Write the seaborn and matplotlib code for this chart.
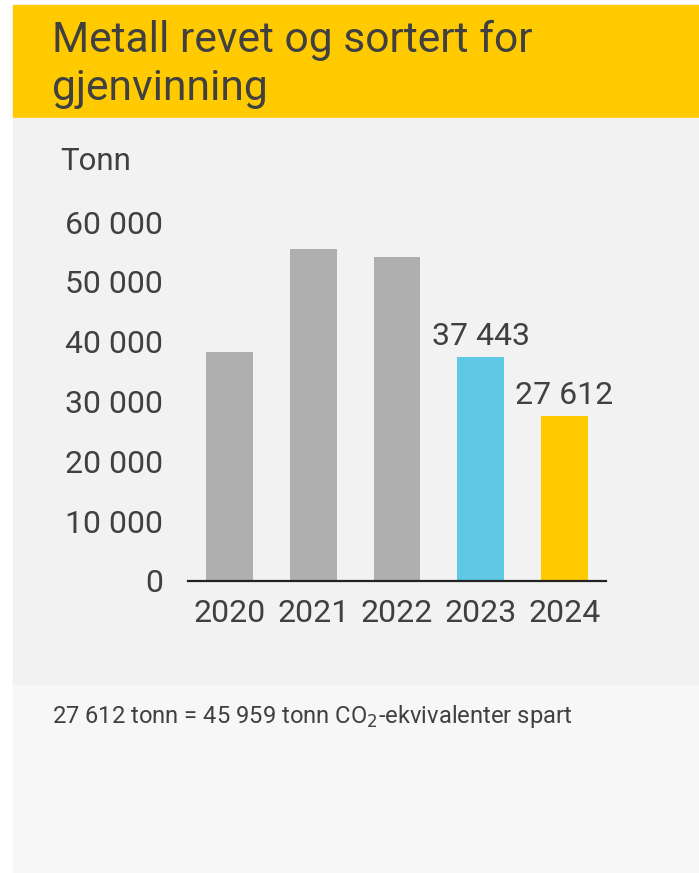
import matplotlib
matplotlib.use('Agg')
import matplotlib.pyplot as plt
from matplotlib.patches import Rectangle
import seaborn as sns
import pandas as pd

sns.set_style('white')
plt.rcParams['font.family'] = ['Roboto', 'DejaVu Sans']

years = ['2020', '2021', '2022', '2023', '2024']
tonn = [38300, 55500, 54200, 37443, 27612]
bar_colors = ['#afafaf', '#afafaf', '#afafaf', '#5ec8e5', '#ffcb00']
yticks = [0, 10000, 20000, 30000, 40000, 50000, 60000]
ytick_labels = ['0', '10 000', '20 000', '30 000', '40 000', '50 000', '60 000']
value_labels = {3: '37 443', 4: '27 612'}

title = 'Metall revet og sortert for\ngjenvinning'
footer = '27 612 tonn = 45 959 tonn CO$_2$-ekvivalenter spart'
text_col = '#404040'

W, H = 699, 873
fig = plt.figure(figsize=(W / 100, H / 100), dpi=100)
fig.patch.set_facecolor('white')

# background blocks (pixel coords converted to figure fraction)
def box(x0, y0, x1, y1, color):
    fig.patches.append(Rectangle((x0 / W, 1 - y1 / H), (x1 - x0) / W, (y1 - y0) / H,
                                 transform=fig.transFigure, color=color, zorder=-10))

box(13, 5, W, 118, '#ffcb00')
box(13, 118, W, 685, '#f2f2f2')
box(13, 685, W, 872, '#f7f7f7')

fig.text(52 / W, 1 - 20 / H, title, fontsize=30.7, color=text_col, va='top', ha='left',
         linespacing=1.2)
fig.text(60 / W, 1 - 161 / H, 'Tonn', fontsize=22.5, color=text_col, va='center', ha='left')
fig.text(52 / W, 1 - 716 / H, footer, fontsize=17.1, color=text_col, va='center', ha='left')

ax = fig.add_axes([188 / W, (H - 581) / H, 418 / W, (581 - 222) / H])
ax.set_facecolor('none')

df = pd.DataFrame({'year': years, 'tonn': tonn})
sns.barplot(data=df, x='year', y='tonn', hue='year', palette=bar_colors,
            width=0.56, legend=False, ax=ax, saturation=1, linewidth=0)

for i, lab in value_labels.items():
    ax.text(i, tonn[i] + 1000, lab, ha='center', va='bottom', fontsize=23, color=text_col)

ax.set_xlim(-0.5, 4.5)
ax.set_ylim(0, 60000)
ax.set_yticks(yticks)
ax.set_yticklabels(ytick_labels)
ax.tick_params(axis='both', length=0, labelsize=23, colors=text_col)
ax.tick_params(axis='y', pad=18)
ax.tick_params(axis='x', pad=13)
ax.set_xlabel('')
ax.set_ylabel('')
for s in ['top', 'right', 'left']:
    ax.spines[s].set_visible(False)
ax.spines['bottom'].set_color('#222222')
ax.spines['bottom'].set_linewidth(1.6)

fig.savefig('out.png', dpi=100)
